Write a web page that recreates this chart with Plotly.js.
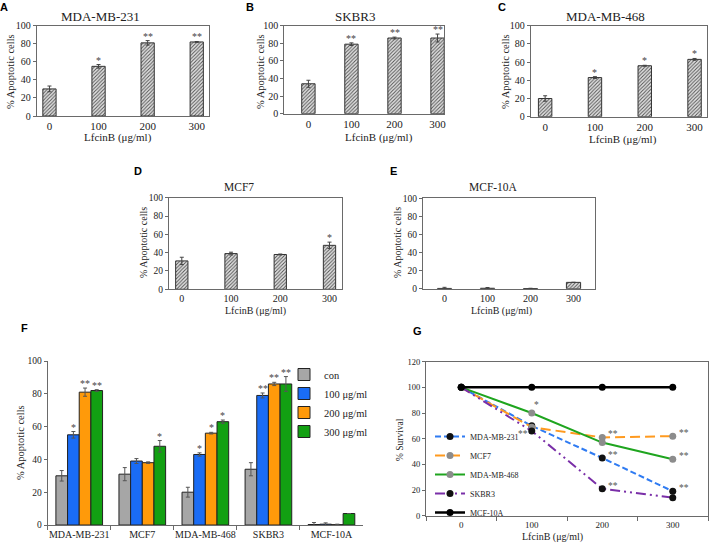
<!DOCTYPE html>
<html>
<head>
<meta charset="utf-8">
<script src="https://cdn.plot.ly/plotly-3.0.1.min.js"></script>
<style>html,body{margin:0;padding:0;background:#fff;}#chart{width:709px;height:543px;}</style>
</head>
<body>
<div id="chart"></div>
<script>
// ---------------- DATA ----------------
const doses = ['0', '100', '200', '300'];
const cellLines = ['MDA-MB-231', 'MCF7', 'MDA-MB-468', 'SKBR3', 'MCF-10A'];
const seriesNames = ['con', '100 μg/ml', '200 μg/ml', '300 μg/ml'];

// % apoptotic cells per cell line (doses 0,100,200,300)
const apopMDA231 = [30, 55, 81, 82];
const errMDA231 = [3.2, 2, 2.5, 0.5];
const apopMCF7 = [31, 39, 38, 48];
const errMCF7 = [4, 1.5, 0.5, 3.5];
const apopMDA468 = [20, 43, 56, 63];
const errMDA468 = [3, 1, 0.5, 1];
const apopSKBR3 = [34, 79, 86, 86];
const errSKBR3 = [4, 1.5, 1, 4.5];
const apopMCF10A = [0.3, 0.5, 0.2, 7];
const errMCF10A = [1.2, 0.8, 0.3, 0];

const sigMDA231 = ['', '*', '**', '**'];
const sigMCF7 = ['', '', '', '*'];
const sigMDA468 = ['', '*', '*', '*'];
const sigSKBR3 = ['', '**', '**', '**'];
const sigMCF10A = ['', '', '', ''];

// % survival (panel G)
const survMDA231 = [100, 70, 45, 19];
const survMCF7 = [100, 69, 61, 62];
const survMDA468 = [100, 80, 57, 44];
const survSKBR3 = [100, 66, 21, 14];
const survMCF10A = [100, 100, 100, 100];

const gSigMDA231 = ['', '', '**', '**'];
const gSigMCF7 = ['', '', '**', '**'];
const gSigMDA468 = ['', '*', '', '**'];
const gSigSKBR3 = ['', '**', '**', ''];
const gSigMCF10A = ['', '', '', ''];

// ---------------- LAYOUT HELPERS ----------------
const W = 709, H = 543;
const fx = p => p / W;
const fy = p => 1 - p / H;
const SERIF = "'Liberation Serif', 'Times New Roman', serif";
const SANS = "'Liberation Sans', Arial, sans-serif";
const TXT = '#222';
const LINE = '#6a6a6a';

const traces = [];
const annotations = [];
const layout = {
  width: W, height: H,
  margin: {l: 0, r: 0, t: 0, b: 0},
  paper_bgcolor: '#fff', plot_bgcolor: '#fff',
  showlegend: true,
  barmode: 'group', bargap: 0.26, bargroupgap: 0,
  font: {family: SERIF, color: TXT},
  annotations: annotations
};

function paperText(text, x, y, size, family, bold, angle) {
  annotations.push({
    xref: 'paper', yref: 'paper', x: fx(x), y: fy(y),
    xanchor: 'center', yanchor: 'middle', showarrow: false,
    text: bold ? '<b>' + text + '</b>' : text, textangle: angle || 0,
    font: {family: family, size: size, color: bold ? '#000' : TXT}
  });
}

// single-line hatched panels A-E
const panels = [
  {id: '', letter: 'A', title: 'MDA-MB-231', vals: apopMDA231, err: errMDA231, sig: sigMDA231,
   box: [36.7, 209, 25.7, 116], range: [-0.26, 3.25], bw: 0.27,
   titlePos: [100, 16, 13], ylab: [10, 72], xlab: [118, 137.5], letPos: [4, 7], tf: [10, 11]},
  {id: '2', letter: 'B', title: 'SKBR3', vals: apopSKBR3, err: errSKBR3, sig: sigSKBR3,
   box: [284.3, 444, 25.7, 113.7], range: [-0.56, 3.15], bw: 0.31,
   titlePos: [355, 16, 13], ylab: [260, 72], xlab: [379, 137.5], letPos: [250, 7], tf: [10, 11]},
  {id: '3', letter: 'C', title: 'MDA-MB-468', vals: apopMDA468, err: errMDA468, sig: sigMDA468,
   box: [530.7, 707, 25.7, 116.7], range: [-0.29, 3.25], bw: 0.27,
   titlePos: [605, 16, 13], ylab: [505, 72], xlab: [623, 139], letPos: [502, 7], tf: [10, 11]},
  {id: '4', letter: 'D', title: 'MCF7', vals: apopMCF7, err: errMCF7, sig: sigMCF7,
   box: [169, 342.3, 197.7, 289.3], range: [-0.26, 3.26], bw: 0.25,
   titlePos: [239, 187, 11.5], ylab: [143, 243], xlab: [255, 311], letPos: [138, 171], tf: [9.5, 10]},
  {id: '5', letter: 'E', title: 'MCF-10A', vals: apopMCF10A, err: errMCF10A, sig: sigMCF10A,
   box: [423, 595, 198.3, 288.7], range: [-0.5, 3.5], bw: 0.33,
   titlePos: [493, 187, 11.5], ylab: [397, 243], xlab: [501, 311], letPos: [393, 171], tf: [9.5, 10]}
];

panels.forEach(p => {
  const xa = 'x' + p.id, ya = 'y' + p.id;
  traces.push({
    type: 'bar', x: doses, y: p.vals, xaxis: xa, yaxis: ya, width: p.bw,
    showlegend: false, hoverinfo: 'skip',
    marker: {color: '#d8d8d8', line: {color: '#333', width: 1},
      pattern: {shape: '/', fgcolor: '#555', bgcolor: '#e4e4e4', size: 2.5, solidity: 0.4}},
    error_y: {type: 'data', array: p.err, visible: true, color: '#444', thickness: 1, width: 2}
  });
  layout['xaxis' + p.id] = {
    domain: [fx(p.box[0]), fx(p.box[1])], anchor: ya, type: 'category',
    range: p.range, showline: true, mirror: true, linecolor: LINE, linewidth: 1,
    ticks: '', showgrid: false, zeroline: false, fixedrange: true, tickangle: 0,
    tickfont: {family: SERIF, size: p.tf[1], color: TXT}
  };
  layout['yaxis' + p.id] = {
    domain: [fy(p.box[3]), fy(p.box[2])], anchor: xa,
    range: [0, 100], dtick: 20, showline: true, mirror: true, linecolor: LINE, linewidth: 1,
    ticks: 'outside', ticklen: 3, tickcolor: LINE, showgrid: false, zeroline: false, fixedrange: true,
    tickfont: {family: SERIF, size: p.tf[0], color: TXT}
  };
  paperText(p.title, p.titlePos[0], p.titlePos[1], p.titlePos[2], SERIF, false);
  paperText('% Apoptotic cells', p.ylab[0], p.ylab[1], p.tf[0] + 0.5, SERIF, false, -90);
  paperText('LfcinB (μg/ml)', p.xlab[0], p.xlab[1], p.tf[1], SERIF, false);
  paperText(p.letter, p.letPos[0], p.letPos[1], 11, SANS, true);
  p.sig.forEach((s, i) => {
    if (!s) return;
    annotations.push({xref: xa, yref: ya, x: i, y: p.vals[i] + p.err[i], text: s,
      showarrow: false, xanchor: 'center', yanchor: 'bottom', yshift: -3,
      font: {family: SERIF, size: 10, color: '#444'}});
  });
});

// ---------------- PANEL F ----------------
const allApop = [apopMDA231, apopMCF7, apopMDA468, apopSKBR3, apopMCF10A];
const allErr = [errMDA231, errMCF7, errMDA468, errSKBR3, errMCF10A];
const allSig = [sigMDA231, sigMCF7, sigMDA468, sigSKBR3, sigMCF10A];
const fColors = ['#a6a6a6', '#1a6cf5', '#ff9a0a', '#12a012'];
seriesNames.forEach((name, k) => {
  traces.push({
    type: 'bar', name: name, x: cellLines, y: allApop.map(a => a[k]),
    xaxis: 'x6', yaxis: 'y6', legend: 'legend', hoverinfo: 'skip',
    marker: {color: fColors[k], line: {color: '#222', width: 1}},
    error_y: {type: 'data', array: allErr.map(a => a[k]), visible: true, color: '#555', thickness: 1, width: 2}
  });
});
const groupW = 1 - layout.bargap;
const barW = groupW / seriesNames.length;
allSig.forEach((sigs, c) => {
  sigs.forEach((s, k) => {
    if (!s) return;
    annotations.push({xref: 'x6', yref: 'y6', x: c - groupW / 2 + barW * (k + 0.5),
      y: allApop[c][k] + allErr[c][k], text: s, showarrow: false,
      xanchor: 'center', yanchor: 'bottom', yshift: -3,
      font: {family: SERIF, size: 10, color: '#444'}});
  });
});
layout.xaxis6 = {
  domain: [fx(47.7), fx(363)], anchor: 'y6', type: 'category', range: [-0.5, 4.5],
  showline: true, linecolor: LINE, ticks: 'outside', tickson: 'boundaries', ticklen: 4, tickcolor: LINE,
  showgrid: false, zeroline: false, fixedrange: true, tickangle: 0,
  tickfont: {family: SERIF, size: 10, color: TXT}
};
layout.yaxis6 = {
  domain: [fy(525), fy(361)], anchor: 'x6', range: [0, 100], dtick: 20,
  showline: true, linecolor: LINE, ticks: 'outside', ticklen: 3, tickcolor: LINE,
  showgrid: false, zeroline: false, fixedrange: true,
  tickfont: {family: SERIF, size: 9.5, color: TXT}
};
layout.legend = {
  x: fx(284), y: fy(360), xanchor: 'left', yanchor: 'top',
  bgcolor: 'rgba(0,0,0,0)', borderwidth: 0, tracegroupgap: 0, itemwidth: 30,
  font: {family: SERIF, size: 10.5, color: TXT}
};
paperText('% Apoptotic cells', 20, 443, 10.5, SERIF, false, -90);
paperText('F', 24, 328, 11, SANS, true);

// ---------------- PANEL G ----------------
const gSeries = [
  {name: 'MDA-MB-231', y: survMDA231, sig: gSigMDA231, color: '#2f7bf2', dash: '6px,3px', mk: '#111', w: 2},
  {name: 'MCF7', y: survMCF7, sig: gSigMCF7, color: '#ff9a1f', dash: '10px,5px', mk: '#8c8c8c', w: 2},
  {name: 'MDA-MB-468', y: survMDA468, sig: gSigMDA468, color: '#1fa51f', dash: 'solid', mk: '#8c8c8c', w: 2},
  {name: 'SKBR3', y: survSKBR3, sig: gSigSKBR3, color: '#7a2fa8', dash: '10px,4px,2px,4px,2px,4px', mk: '#111', w: 2},
  {name: 'MCF-10A', y: survMCF10A, sig: gSigMCF10A, color: '#000', dash: 'solid', mk: '#000', w: 2.5}
];
gSeries.forEach(s => {
  traces.push({
    type: 'scatter', mode: 'lines+markers', name: s.name, x: doses, y: s.y,
    xaxis: 'x7', yaxis: 'y7', legend: 'legend2', hoverinfo: 'skip',
    line: {color: s.color, dash: s.dash, width: s.w},
    marker: {color: s.mk, size: 7}
  });
  s.sig.forEach((t, i) => {
    if (!t) return;
    const left = (s.name === 'SKBR3' && i === 1);
    const above = (s.name === 'MDA-MB-468' && i === 1);
    annotations.push({xref: 'x7', yref: 'y7', x: i, y: s.y[i], text: t, showarrow: false,
      xanchor: left ? 'right' : 'left', yanchor: 'middle',
      xshift: left ? -2 : (above ? 0 : 4), yshift: left ? -3 : (above ? 8 : 3),
      font: {family: SERIF, size: 9.5, color: '#555'}});
  });
});
layout.xaxis7 = {
  domain: [fx(426), fx(708)], anchor: 'y7', type: 'category', range: [-0.5, 3.5],
  showline: true, mirror: true, linecolor: LINE, ticks: 'outside', tickson: 'boundaries', ticklen: 4, tickcolor: LINE,
  showgrid: false, zeroline: false, fixedrange: true, tickangle: 0,
  tickfont: {family: SERIF, size: 9, color: TXT}
};
layout.yaxis7 = {
  domain: [fy(515.7), fy(361.7)], anchor: 'x7', range: [0, 120], dtick: 20,
  showline: true, mirror: true, linecolor: LINE, ticks: 'outside', ticklen: 3, tickcolor: LINE,
  showgrid: false, zeroline: false, fixedrange: true,
  tickfont: {family: SERIF, size: 8.5, color: TXT}
};
layout.legend2 = {
  x: fx(430), y: fy(422), xanchor: 'left', yanchor: 'top',
  bgcolor: 'rgba(0,0,0,0)', borderwidth: 0, tracegroupgap: 0, itemwidth: 30,
  font: {family: SERIF, size: 8, color: TXT}
};
paperText('% Survival', 400, 440, 9.5, SERIF, false, -90);
paperText('LfcinB (μg/ml)', 552, 536.5, 10, SERIF, false);
paperText('G', 417, 331, 11, SANS, true);

Plotly.newPlot('chart', traces, layout, {staticPlot: true, displayModeBar: false});
</script>
</body>
</html>
